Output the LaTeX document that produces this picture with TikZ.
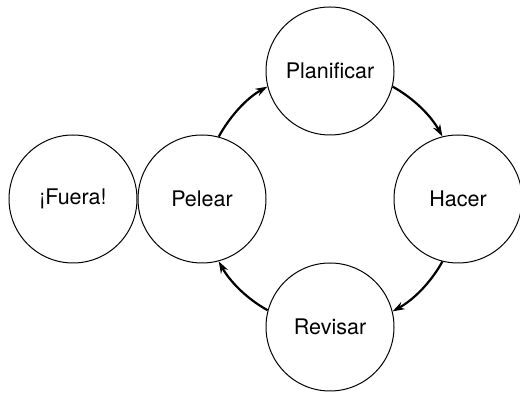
\documentclass[tikz,border=0pt]{standalone}
\usepackage{fontspec}
\setmainfont{TeX Gyre Heros}
\usetikzlibrary{arrows.meta}
\begin{document}
\begin{tikzpicture}[x=1pt,y=1pt,
  stage/.style={circle,draw,line width=1pt,minimum size=128pt,inner sep=0pt,
    font=\fontsize{21.5}{25}\selectfont},
  flow/.style={line width=2.2pt,-{Stealth[length=12pt,width=8pt]},looseness=0.87}]
  \useasboundingbox (0,0) rectangle (520,393);
  % four stages sit on a ring of radius 128 around (330,194)
  \node[stage] (fuera) at (73,194) {¡Fuera!};
  \node[stage] (pelear) at (202,194) {Pelear};
  \node[stage] (plan) at (330,322) {Planificar};
  \node[stage] (hacer) at (458,194) {Hacer};
  \node[stage] (revisar) at (330,66) {Revisar};
  % arrows follow the ring, clockwise
  \draw[flow] (pelear.75.5) to[out=61,in=209] (plan.194.5);
  \draw[flow] (plan.-14.5) to[out=-29,in=119] (hacer.104.5);
  \draw[flow] (hacer.-104.5) to[out=-119,in=29] (revisar.14.5);
  \draw[flow] (revisar.165.5) to[out=151,in=299] (pelear.-75.5);
\end{tikzpicture}
\end{document}
